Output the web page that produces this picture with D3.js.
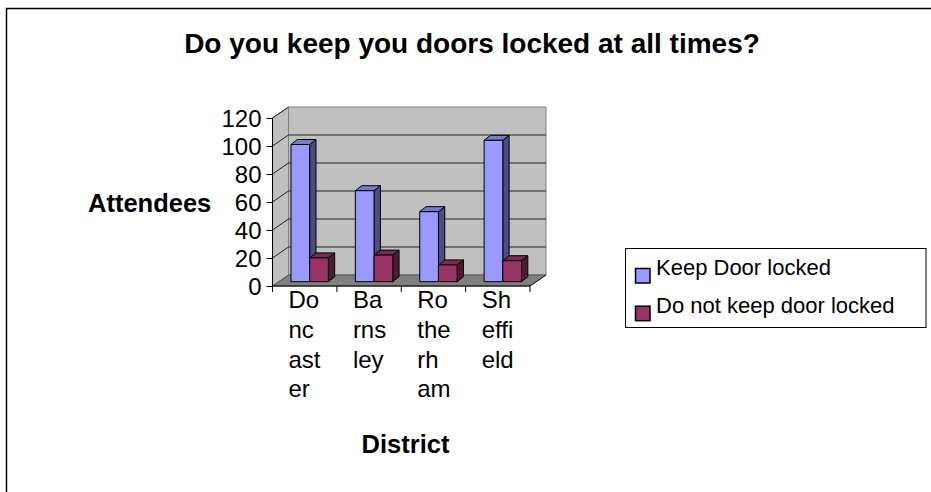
<!DOCTYPE html>
<html>
<head>
<meta charset="utf-8">
<script src="https://cdn.jsdelivr.net/npm/d3@7"></script>
<style>
  html, body { margin:0; padding:0; background:#fff; }
  svg text { font-family: Arial, "Liberation Sans", sans-serif; fill:#000; }
</style>
</head>
<body>
<div id="chart"></div>
<script>
// Daten
const categories = ["Doncaster", "Barnsley", "Rotherham", "Sheffield"];
const catLines   = [["Do","nc","ast","er"], ["Ba","rns","ley"], ["Ro","the","rh","am"], ["Sh","effi","eld"]];
const seriesNames = ["Keep Door locked", "Do not keep door locked"];
const keepLocked    = [98, 65, 50, 101];
const notKeepLocked = [17, 19, 12, 15];
const yTicks = [0, 20, 40, 60, 80, 100, 120];

const W = 931, H = 492;
const C = {
  front: ["#9999ff", "#993366"],
  top:   ["#7a7acc", "#7a2952"],
  side:  ["#4d4d80", "#4d1a33"],
  wall: "#c0c0c0", floor: "#808080", edge: "#808080"
};
const depth = { dx: 16, dy: -11 };      // Tiefe der Wände
const barOff = { dx: 5, dy: -4.3 };     // Vorderkante der Säulen
const barDepth = { dx: 6.3, dy: -5 };   // Tiefe der Säulen
const barW = 18.7;

const svg = d3.select("#chart").append("svg").attr("width", W).attr("height", H);

// Rahmen (läuft über den Bildrand hinaus)
svg.append("rect").attr("x", 6.5).attr("y", 8.5).attr("width", 1000).attr("height", 1000)
  .attr("fill", "#fff").attr("stroke", "#000").attr("stroke-width", 1.5);

const x = d3.scaleBand().domain(categories).range([272.5, 530]);
const y = d3.scaleLinear().domain([0, 120]).range([286, 118]);
const x0 = x.range()[0], x1 = x.range()[1];
const pts = a => a.map(p => p.join(",")).join(" ");

// Wände + Boden
svg.append("polygon")
  .attr("points", pts([[x0, y(0)], [x0, y(120)], [x0+depth.dx, y(120)+depth.dy], [x0+depth.dx, y(0)+depth.dy]]))
  .attr("fill", C.wall).attr("stroke", C.edge);
svg.append("polygon")
  .attr("points", pts([[x0+depth.dx, y(120)+depth.dy], [x1+depth.dx, y(120)+depth.dy], [x1+depth.dx, y(0)+depth.dy], [x0+depth.dx, y(0)+depth.dy]]))
  .attr("fill", C.wall).attr("stroke", C.edge);
svg.append("polygon")
  .attr("points", pts([[x0, y(0)], [x1, y(0)], [x1+depth.dx, y(0)+depth.dy], [x0+depth.dx, y(0)+depth.dy]]))
  .attr("fill", C.floor).attr("stroke", "#555");

// Gitterlinien
const grid = svg.append("g").attr("stroke", "#222").attr("stroke-width", 1);
yTicks.filter(t => t > 0 && t < 120).forEach(t => {
  const yy = y(t) + depth.dy;
  grid.append("line").attr("x1", x0+depth.dx).attr("x2", x1+depth.dx).attr("y1", yy).attr("y2", yy);
});
yTicks.filter(t => t > 0).forEach(t => {
  grid.append("line").attr("x1", x0).attr("x2", x0+depth.dx).attr("y1", y(t)).attr("y2", y(t)+depth.dy);
});
svg.append("line").attr("x1", x1).attr("y1", y(0)).attr("x2", x1+depth.dx).attr("y2", y(0)+depth.dy)
  .attr("stroke", "#222");

// Säulen
const series = [keepLocked, notKeepLocked];
const bars = svg.append("g").attr("stroke", "#000").attr("stroke-width", 1).attr("stroke-linejoin", "round");
categories.forEach((c, i) => {
  series.forEach((vals, j) => {
    const left = x(c) + (x.bandwidth() - 2*barW)/2 + barOff.dx + j*barW;
    const right = left + barW;
    const yb = y(0) + barOff.dy, yt = y(vals[i]) + barOff.dy;
    const ddx = barDepth.dx, ddy = barDepth.dy;
    bars.append("polygon").attr("fill", C.side[j])
      .attr("points", pts([[right, yt], [right+ddx, yt+ddy], [right+ddx, yb+ddy], [right, yb]]));
    bars.append("polygon").attr("fill", C.top[j])
      .attr("points", pts([[left, yt], [right, yt], [right+ddx, yt+ddy], [left+ddx, yt+ddy]]));
    bars.append("rect").attr("fill", C.front[j])
      .attr("x", left).attr("y", yt).attr("width", barW).attr("height", yb - yt);
  });
});

// Achsen
const yAxis = svg.append("g").attr("transform", `translate(${x0},0)`)
  .call(d3.axisLeft(y).tickValues(yTicks).tickSize(6).tickPadding(5));
yAxis.select(".domain").attr("d", `M0,${y(0)}V${y(120)}`).attr("stroke", "#000");
yAxis.selectAll(".tick line").attr("stroke", "#000");
yAxis.selectAll(".tick text").attr("font-size", 24).attr("font-family", "Arial, 'Liberation Sans', sans-serif")
  .attr("dy", "0.36em");

const xAxis = svg.append("g");
xAxis.append("line").attr("x1", x0).attr("x2", x1).attr("y1", y(0)).attr("y2", y(0)).attr("stroke", "#000");
categories.concat([null]).forEach((c, i) => {
  const xx = c ? x(c) : x1;
  xAxis.append("line").attr("x1", xx).attr("x2", xx).attr("y1", y(0)).attr("y2", y(0)+6).attr("stroke", "#000");
});
categories.forEach((c, i) => {
  const t = xAxis.append("text").attr("x", x(c) + 16).attr("y", 308.3).attr("font-size", 24);
  catLines[i].forEach((s, k) => t.append("tspan").attr("x", x(c) + 16).attr("y", 308.3 + k*29.7).text(s));
});

// Titel + Achsentitel
svg.append("text").attr("x", 472).attr("y", 53).attr("text-anchor", "middle")
  .attr("font-size", 28).attr("font-weight", "bold").text("Do you keep you doors locked at all times?");
svg.append("text").attr("x", 88).attr("y", 211.7)
  .attr("font-size", 25.5).attr("font-weight", "bold").text("Attendees");
svg.append("text").attr("x", 405.5).attr("y", 452.7).attr("text-anchor", "middle")
  .attr("font-size", 25.5).attr("font-weight", "bold").text("District");

// Legende
const lg = svg.append("g");
lg.append("rect").attr("x", 625.5).attr("y", 248.5).attr("width", 300.5).attr("height", 79)
  .attr("fill", "#fff").attr("stroke", "#000");
seriesNames.forEach((n, j) => {
  const base = 275 + j*37.7;
  lg.append("rect").attr("x", 635.5).attr("y", base - 6.5).attr("width", 14.5).attr("height", 14.5)
    .attr("fill", C.front[j]).attr("stroke", "#000").attr("stroke-width", 1.5);
  lg.append("text").attr("x", 656).attr("y", base).attr("font-size", 22).text(n);
});
</script>
</body>
</html>
